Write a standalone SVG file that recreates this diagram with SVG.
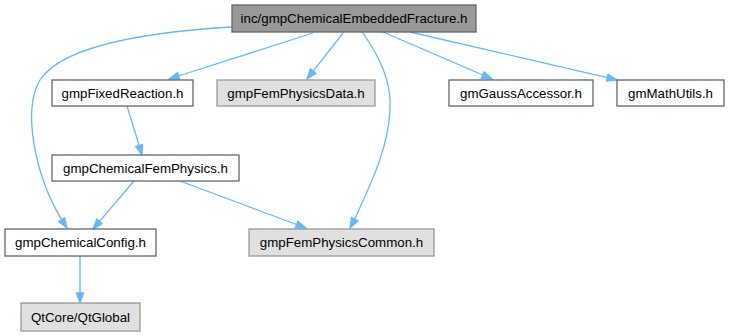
<svg xmlns="http://www.w3.org/2000/svg" width="730" height="336" viewBox="0 0 730 336">
<style>
text{font-family:"Liberation Sans",Arial,sans-serif;font-size:13.3px;fill:#000;text-anchor:middle}
.n rect{fill:#fff;stroke:#666;stroke-width:1.3}
.g rect{fill:#e0e0e0;stroke:#999;stroke-width:1.3}
.r rect{fill:#999;stroke:#666;stroke-width:1.3}
#edges path{fill:none;stroke:#63b8ff;stroke-width:1.3}
#edges polygon{fill:#63b8ff;stroke:#63b8ff;stroke-width:1.3}
</style>
<rect width="730" height="336" fill="#fff"/>
<g id="edges">
<path d="M232,27 C165,31 65,42 40,80 C22,110 35,175 61.6,219.6"/>
<polygon points="67,228 58.7,221.5 64.6,217.7"/>
<path d="M313,33 L178.5,76"/>
<polygon points="169,79 177.5,72.6 179.6,79.3"/>
<path d="M343,33 L313.2,71.1"/>
<polygon points="307,79 310.4,68.9 316,73.3"/>
<path d="M363,33 C378,55 392,80 390,110 C388,150 370,185 354.7,219.2"/>
<polygon points="350,228 351.6,217.5 357.8,220.9"/>
<path d="M383,32 L482.8,75"/>
<polygon points="492,79 481.4,78.2 484.2,71.8"/>
<path d="M410,32 L607.3,77.7"/>
<polygon points="617,80 606.5,81.1 608.1,74.3"/>
<path d="M127,106 L139.1,145.4"/>
<polygon points="142,155 135.7,146.5 142.4,144.4"/>
<path d="M134,181 L99.5,221.4"/>
<polygon points="93,229 96.8,219.1 102.2,223.7"/>
<path d="M180,181 L296.6,224.5"/>
<polygon points="306,228 295.4,227.8 297.8,221.2"/>
<path d="M80,256 L80,293"/>
<polygon points="80,303 76.5,293 83.5,293"/>
</g>
<g id="root" class="r"><rect x="232" y="5" width="244" height="27"/><text x="354" y="23">inc/gmpChemicalEmbeddedFracture.h</text></g>
<g id="fixedReaction" class="n"><rect x="52" y="80" width="141" height="26"/><text x="122.5" y="97.5">gmpFixedReaction.h</text></g>
<g id="femPhysicsData" class="g"><rect x="217" y="80" width="158" height="26"/><text x="296" y="97.5">gmpFemPhysicsData.h</text></g>
<g id="gaussAccessor" class="n"><rect x="449" y="80" width="144" height="26"/><text x="521" y="97.5">gmGaussAccessor.h</text></g>
<g id="mathUtils" class="n"><rect x="617" y="80" width="107" height="26"/><text x="670.5" y="97.5">gmMathUtils.h</text></g>
<g id="chemicalFemPhysics" class="n"><rect x="52" y="155" width="187" height="26"/><text x="145.5" y="172.5">gmpChemicalFemPhysics.h</text></g>
<g id="chemicalConfig" class="n"><rect x="5" y="229" width="151" height="27"/><text x="80.5" y="247">gmpChemicalConfig.h</text></g>
<g id="femPhysicsCommon" class="g"><rect x="249" y="229" width="185" height="27"/><text x="341.5" y="247">gmpFemPhysicsCommon.h</text></g>
<g id="qtGlobal" class="g"><rect x="21" y="303" width="119" height="28"/><text x="80.5" y="321.5">QtCore/QtGlobal</text></g>
</svg>
